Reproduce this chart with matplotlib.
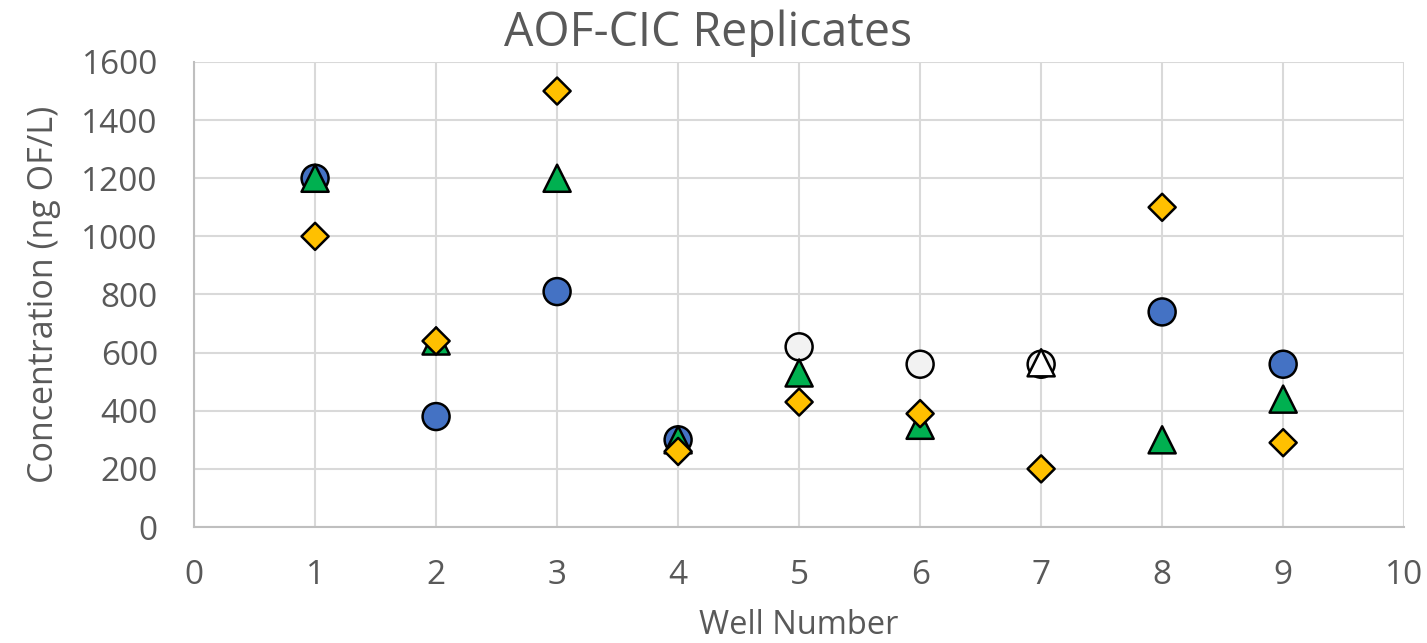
import matplotlib
matplotlib.use("Agg")
import matplotlib.pyplot as plt

plt.rcParams['font.family'] = ['Open Sans', 'DejaVu Sans']

# Replicate measurements per well (ng OF/L)
wells = [1, 2, 3, 4, 5, 6, 7, 8, 9]
rep1 = [1200, 380, 810, 300, 620, 560, 560, 740, 560]    # circles
rep2 = [1200, 640, 1200, 300, 530, 350, 565, 300, 440]   # triangles
rep3 = [1000, 640, 1500, 260, 430, 390, 200, 1100, 290]  # diamonds

# Per-point fill: open markers flag the flagged replicates
rep1_fill = ['#4472C4'] * 4 + ['#F2F2F2'] * 3 + ['#4472C4'] * 2
rep2_fill = ['#00B050'] * 6 + ['#FFFFFF'] + ['#00B050'] * 2
rep3_fill = ['#FFC000'] * 9

xticks = [0, 1, 2, 3, 4, 5, 6, 7, 8, 9, 10]
yticks = [0, 200, 400, 600, 800, 1000, 1200, 1400, 1600]

text_color = '#595959'

fig = plt.figure(figsize=(14.27, 6.43), dpi=100)
ax = fig.add_axes([0.136, 0.1804, 0.848, 0.7232])

ax.scatter(wells, rep1, s=377, marker='o', c=rep1_fill,
           edgecolors='black', linewidths=1.8, zorder=3)
ax.scatter(wells, rep2, s=380, marker='^', c=rep2_fill,
           edgecolors='black', linewidths=1.8, zorder=4)
ax.scatter(wells, rep3, s=190, marker='D', c=rep3_fill,
           edgecolors='black', linewidths=1.8, zorder=5)

ax.set_xlim(0, 10)
ax.set_ylim(0, 1600)
ax.set_xticks(xticks)
ax.set_yticks(yticks)
ax.grid(True, color='#D9D9D9', linewidth=1.5, zorder=0)
ax.set_axisbelow(True)
for side in ['top', 'right']:
    ax.spines[side].set_visible(False)
for side in ['left', 'bottom']:
    ax.spines[side].set_color('#BFBFBF')
    ax.spines[side].set_linewidth(1.5)

ax.tick_params(axis='both', length=0, labelsize=24, colors=text_color)
ax.tick_params(axis='x', pad=23)
ax.tick_params(axis='y', pad=26)

fig.text(0.4965, 0.949, 'AOF-CIC Replicates', fontsize=33.5, color=text_color,
         ha='center', va='center')
ax.set_xlabel('Well Number', fontsize=23.5, color=text_color, labelpad=12)
ax.set_ylabel('Concentration (ng OF/L)', fontsize=24.5, color=text_color, labelpad=15)

fig.savefig('out.png', dpi=100)
